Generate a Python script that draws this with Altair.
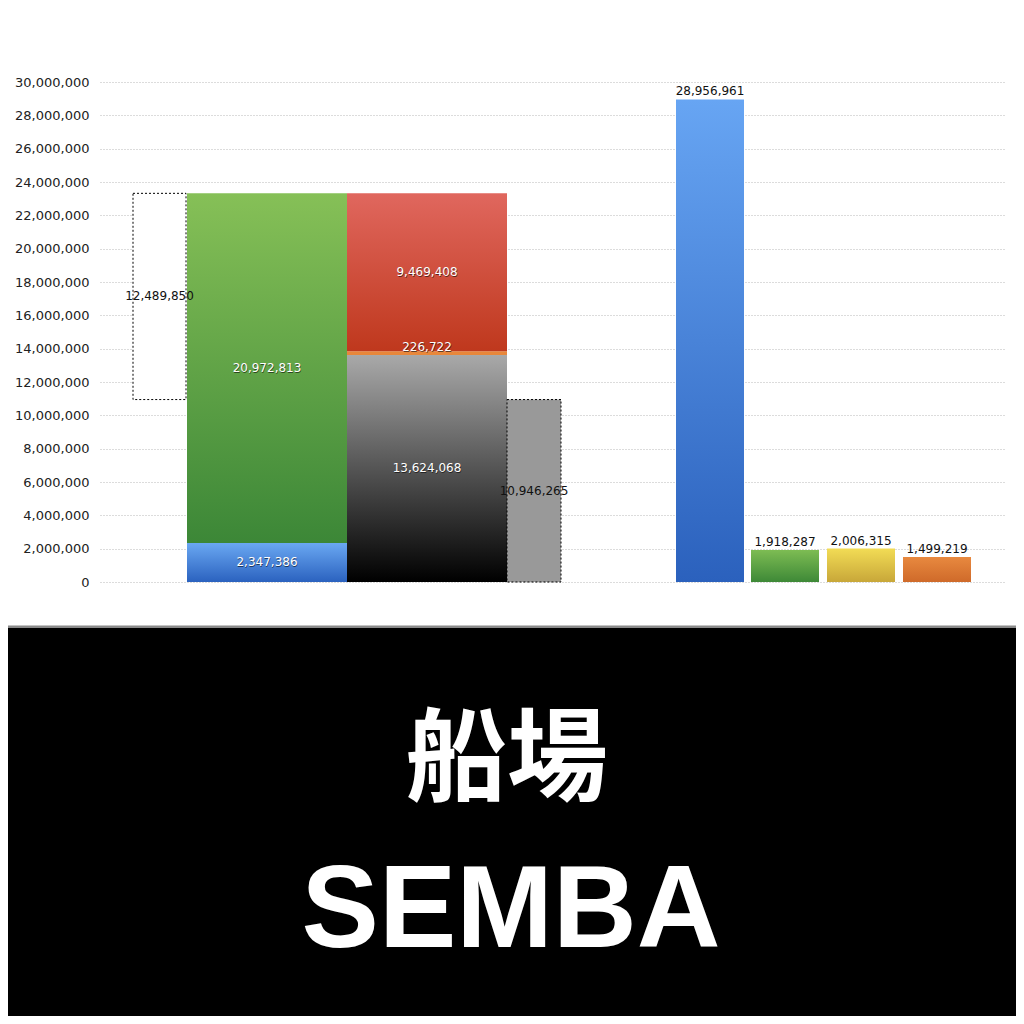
import altair as alt
import pandas as pd

# ---------------- data ----------------
LEFT_BLUE = 2347386
LEFT_GREEN = 20972813
MID_BLACK = 13624068
MID_ORANGE = 226722
MID_RED = 9469408
GAP_LABEL = 12489850
GRAY_DASHED = 10946265
RIGHT_VALUES = [28956961, 1918287, 2006315, 1499219]
Y_MAX = 30000000
Y_TICK_COUNT = 15
TITLE_JA = "船場"
TITLE_EN = "SEMBA"

# ---------------- layout (x in abstract slot units) ----------------
W, H = 905, 500
SLOT_A = (33, 86)     # dashed outline box
SLOT_B = (87, 247)    # blue/green stack
SLOT_C = (247, 407)   # black/orange/red stack
SLOT_D = (407, 461)   # gray dashed
RIGHT_SLOTS = [(576, 644), (651, 719), (727, 795), (803, 871)]

xs = alt.Scale(domain=[0, W], range=[0, W])
ys = alt.Scale(domain=[0, Y_MAX], nice=False)


def grad(top, bottom):
    return alt.LinearGradient(
        gradient="linear",
        stops=[alt.GradientStop(color=top, offset=0),
               alt.GradientStop(color=bottom, offset=1)],
        x1=0, x2=0, y1=0, y2=1)


def seg(slot, y0, y1, **mark):
    df = pd.DataFrame({"x": [slot[0]], "x2": [slot[1]], "y": [y0], "y2": [y1]})
    return alt.Chart(df).mark_rect(**mark).encode(
        x=alt.X("x:Q", scale=xs, axis=None),
        x2="x2:Q",
        y=alt.Y("y:Q", scale=ys, title=None),
        y2="y2:Q",
    )


def label(slot, yval, text, color, dy=0, baseline="middle"):
    df = pd.DataFrame({"x": [(slot[0] + slot[1]) / 2], "y": [yval], "t": [text]})
    layers = []
    if color == "white":
        layers.append(alt.Chart(df).mark_text(
            font="DejaVu Sans", fontSize=12, color="#000", opacity=0.55,
            dy=dy + 1, dx=0.5, baseline=baseline).encode(
            x=alt.X("x:Q", scale=xs, axis=None),
            y=alt.Y("y:Q", scale=ys, title=None), text="t:N"))
    layers.append(alt.Chart(df).mark_text(
        font="DejaVu Sans", fontSize=12, color=color, dy=dy,
        baseline=baseline).encode(
        x=alt.X("x:Q", scale=xs, axis=None),
        y=alt.Y("y:Q", scale=ys, title=None), text="t:N"))
    return layers


def fmt(v):
    return f"{v:,}"


left_total = LEFT_BLUE + LEFT_GREEN
mid_o0 = MID_BLACK
mid_r0 = MID_BLACK + MID_ORANGE
mid_total = mid_r0 + MID_RED

layers = []

# bottom black band & title
band_df = pd.DataFrame({"a": [0]})
layers.append(alt.Chart(band_df).mark_rect(color="#8a8a8a").encode(
    x=alt.value(-92), x2=alt.value(916), y=alt.value(543.5), y2=alt.value(546.5)))
layers.append(alt.Chart(band_df).mark_rect(color="#000").encode(
    x=alt.value(-92), x2=alt.value(916), y=alt.value(546), y2=alt.value(934)))

title_df = pd.DataFrame({"ja": [TITLE_JA], "en": [TITLE_EN]})
layers.append(alt.Chart(title_df).mark_text(
    font="Noto Sans CJK JP", fontWeight="bold", fontSize=101, color="white",
    baseline="alphabetic", align="center").encode(
    x=alt.value(407), y=alt.value(711), text="ja:N"))
layers.append(alt.Chart(title_df).mark_text(
    font="Liberation Sans", fontWeight="bold", fontSize=116, color="white",
    baseline="alphabetic", align="center").encode(
    x=alt.value(411), y=alt.value(865), text="en:N"))

# left group
layers.append(seg(SLOT_A, GRAY_DASHED, left_total, fill="white", stroke="black",
                  strokeDash=[2, 2], strokeWidth=1))
layers.append(seg(SLOT_B, 0, LEFT_BLUE, color=grad("#6aa8f2", "#2b62bf")))
layers.append(seg(SLOT_B, LEFT_BLUE, left_total, color=grad("#86c057", "#3c8737")))
layers.append(seg(SLOT_C, 0, MID_BLACK, color=grad("#a9a9a9", "#000000")))
layers.append(seg(SLOT_C, mid_o0, mid_r0, color="#e8873a"))
layers.append(seg(SLOT_C, mid_r0, mid_total, color=grad("#e0675e", "#bf381d")))
layers.append(seg(SLOT_D, 0, GRAY_DASHED, fill="#999999", stroke="black",
                  strokeDash=[2, 2], strokeWidth=1))

layers += label(SLOT_A, (GRAY_DASHED + left_total) / 2, fmt(GAP_LABEL), "#111")
layers += label(SLOT_B, LEFT_BLUE / 2, fmt(LEFT_BLUE), "white")
layers += label(SLOT_B, (LEFT_BLUE + left_total) / 2, fmt(LEFT_GREEN), "white")
layers += label(SLOT_C, MID_BLACK / 2, fmt(MID_BLACK), "white")
layers += label(SLOT_C, (mid_o0 + mid_r0) / 2, fmt(MID_ORANGE), "white", dy=-6)
layers += label(SLOT_C, (mid_r0 + mid_total) / 2, fmt(MID_RED), "white")
layers += label(SLOT_D, GRAY_DASHED / 2, fmt(GRAY_DASHED), "#111")

# right group
right_colors = [grad("#67a5f3", "#2b61bd"), grad("#7dbc53", "#3e8937"),
                grad("#f2dc55", "#c8a739"), grad("#e8893f", "#cf6a2a")]
for slot, v, c in zip(RIGHT_SLOTS, RIGHT_VALUES, right_colors):
    layers.append(seg(slot, 0, v, color=c))
    layers += label(slot, v, fmt(v), "#111", dy=-4, baseline="alphabetic")

chart = alt.layer(*layers).properties(
    width=W, height=H,
    autosize=alt.AutoSizeParams(type="none"),
    padding={"left": 92, "top": 74, "right": 11, "bottom": 434},
    background="white",
).configure_view(stroke=None).configure_axisY(
    tickCount=Y_TICK_COUNT,
    labelExpr="format(datum.value, ',')",
    domain=False, ticks=False, labelPadding=11,
    labelFont="DejaVu Sans", labelFontSize=13, labelColor="#222",
    grid=True, gridColor="#b8b8b8", gridDash=[1, 2], gridWidth=1,
)

chart.save("out.html", embed_options={"renderer": "svg", "actions": False})
